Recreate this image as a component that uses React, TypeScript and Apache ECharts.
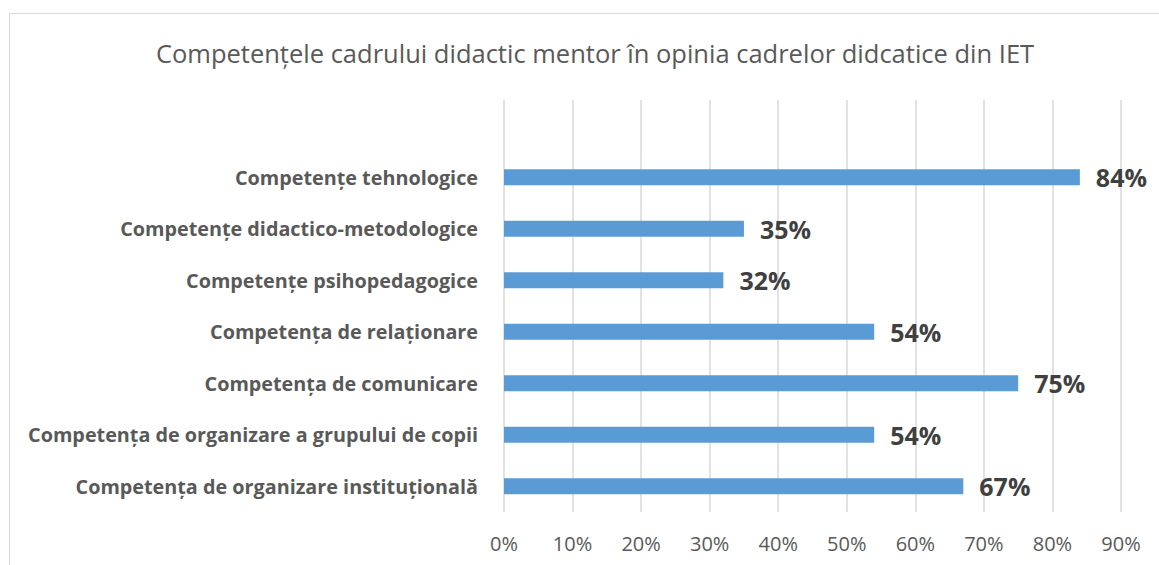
import React, { useEffect, useRef } from "react";
import * as echarts from "echarts";

const titleText = "Competențele cadrului didactic mentor în opinia cadrelor didcatice din IET";
const categories = [
  "Competența de organizare instituțională",
  "Competența de organizare a grupului de copii",
  "Competența de comunicare",
  "Competența de relaționare",
  "Competențe psihopedagogice",
  "Competențe didactico-metodologice",
  "Competențe tehnologice",
  "",
];
const values: (number | null)[] = [0.67, 0.54, 0.75, 0.54, 0.32, 0.35, 0.84, null];
const xMax = 0.9;
const xStep = 0.1;

export default function App() {
  const ref = useRef<HTMLDivElement>(null);
  useEffect(() => {
    if (!ref.current) return;
    const chart = echarts.init(ref.current, null, { renderer: "svg" });
    chart.setOption({
      animation: false,
      backgroundColor: "#ffffff",
      title: {
        text: titleText,
        left: 590,
        textAlign: "center",
        top: 35,
        textStyle: {
          fontFamily: "Open Sans",
          fontSize: 25.5,
          fontWeight: "normal",
          color: "#595959",
        },
      },
      graphic: [
        {
          type: "rect",
          shape: { x: 9.5, y: 13.5, width: 1300, height: 700 },
          style: { fill: "none", stroke: "#d9d9d9", lineWidth: 1 },
          silent: true,
        },
      ],
      grid: { left: 504, right: 38, top: 100, bottom: 53, containLabel: false },
      xAxis: {
        type: "value",
        min: 0,
        max: xMax,
        interval: xStep,
        axisLine: { show: false },
        axisTick: { show: false },
        splitLine: { show: true, lineStyle: { color: "#d9d9d9", width: 1.5 } },
        axisLabel: {
          formatter: (v: number) => Math.round(v * 100) + "%",
          fontFamily: "Open Sans",
          fontSize: 20,
          color: "#595959",
          margin: 21,
        },
      },
      yAxis: {
        type: "category",
        data: categories,
        axisLine: { show: false },
        axisTick: { show: false },
        splitLine: { show: false },
        axisLabel: {
          fontFamily: "Open Sans",
          fontWeight: "bold",
          fontSize: 19.8,
          color: "#595959",
          margin: 26,
        },
      },
      series: [
        {
          type: "bar",
          data: values,
          barWidth: 16,
          itemStyle: { color: "#5b9bd5" },
          label: {
            show: true,
            position: "right",
            distance: 16,
            formatter: (p: any) => Math.round(p.value * 100) + "%",
            fontFamily: "Open Sans",
            fontWeight: "bold",
            fontSize: 25,
            color: "#404040",
          },
        },
      ],
    });
    return () => chart.dispose();
  }, []);
  return (
    <div
      ref={ref}
      style={{ position: "fixed", left: 0, top: 0, width: 1159, height: 565 }}
    />
  );
}
